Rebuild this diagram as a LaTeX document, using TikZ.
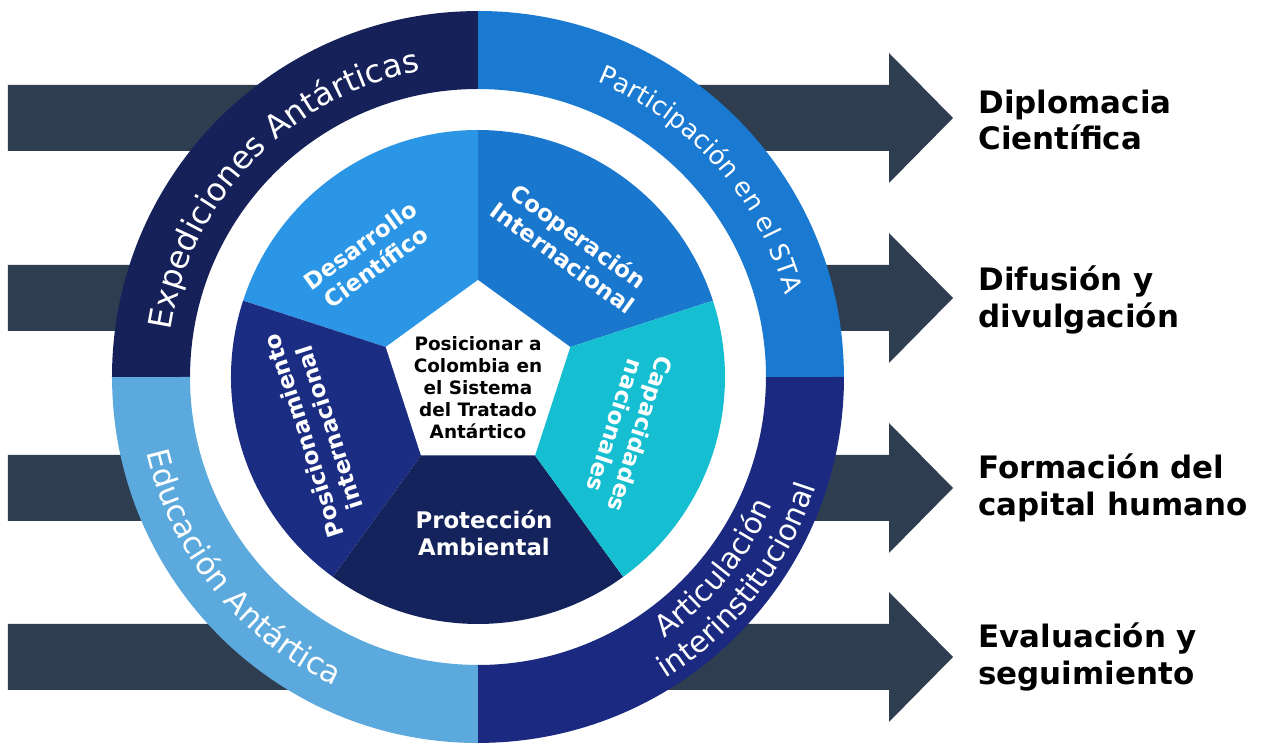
\documentclass[tikz,border=0pt]{standalone}
\usepackage{fontspec}
\setmainfont{DejaVu Sans}
\usetikzlibrary{decorations.text}
\definecolor{arrowc}{HTML}{2E3D4F}
\definecolor{expc}{HTML}{16215A}
\definecolor{partc}{HTML}{1A79D0}
\definecolor{artc}{HTML}{1B2A80}
\definecolor{educ}{HTML}{5CA9DE}
\definecolor{desc}{HTML}{2B96E6}
\definecolor{coopc}{HTML}{1A77CE}
\definecolor{capc}{HTML}{15BED0}
\definecolor{protc}{HTML}{15235D}
\definecolor{posc}{HTML}{1B2C83}
\begin{document}
\begin{tikzpicture}[x=0.02cm,y=0.02cm,
  arrowshape/.style={fill=arrowc},
  seclabel/.style={text=white,font=\bfseries\fontsize{13}{15.3}\selectfont,align=center,inner sep=0pt},
  centerlabel/.style={text=black,font=\bfseries\fontsize{10.5}{12.5}\selectfont,align=center,inner sep=0pt},
  rightlabel/.style={text=black,font=\bfseries\fontsize{17.6}{21}\selectfont,align=left,anchor=west,inner sep=0pt}]
\useasboundingbox (-478,-372) rectangle (784,377);
\fill[white] (-478,-372) rectangle (784,377);
% arrows
\foreach \yy in {259,79,-111,-280}{
  \fill[arrowshape] (-470,\yy+33) -- (411,\yy+33) -- (411,\yy+65) -- (475,\yy) -- (411,\yy-65) -- (411,\yy-33) -- (-470,\yy-33) -- cycle;
}
% white ring behind
\fill[white] (0,0) circle[radius=5.78cm];
% outer ring quadrants
\fill[partc] (0:288) arc[start angle=0,end angle=90,radius=5.76cm] -- (90:366) arc[start angle=90,end angle=0,radius=7.32cm] -- cycle;
\fill[expc] (90:288) arc[start angle=90,end angle=180,radius=5.76cm] -- (180:366) arc[start angle=180,end angle=90,radius=7.32cm] -- cycle;
\fill[educ] (180:288) arc[start angle=180,end angle=270,radius=5.76cm] -- (270:366) arc[start angle=270,end angle=180,radius=7.32cm] -- cycle;
\fill[artc] (270:288) arc[start angle=270,end angle=360,radius=5.76cm] -- (360:366) arc[start angle=360,end angle=270,radius=7.32cm] -- cycle;
% inner disc sectors
\fill[coopc] (0,0) -- (18:247) arc[start angle=18,end angle=90,radius=4.94cm] -- cycle;
\fill[desc] (0,0) -- (90:247) arc[start angle=90,end angle=162,radius=4.94cm] -- cycle;
\fill[posc] (0,0) -- (162:247) arc[start angle=162,end angle=234,radius=4.94cm] -- cycle;
\fill[protc] (0,0) -- (234:247) arc[start angle=234,end angle=306,radius=4.94cm] -- cycle;
\fill[capc] (0,0) -- (306:247) arc[start angle=306,end angle=378,radius=4.94cm] -- cycle;
% central pentagon
\fill[white] (90:97) -- (162:97) -- (234:97) -- (306:97) -- (18:97) -- cycle;
% ring texts
\path[decorate,decoration={text along path,text align=center,
  text={|\color{white}\fontsize{18.2}{21}\selectfont|Expediciones Antárticas}}]
  (181:311) arc[start angle=181,end angle=91,radius=6.22cm];
\path[decorate,decoration={text along path,text align=center,
  text={|\color{white}\fontsize{14.6}{17}\selectfont|Participación en el STA}}]
  (86.5:318) arc[start angle=86.5,end angle=-3.5,radius=6.36cm];
\path[decorate,decoration={text along path,text align=center,
  text={|\color{white}\fontsize{17.6}{20}\selectfont|Educación Antártica}}]
  (174:340) arc[start angle=174,end angle=264,radius=6.8cm];
\path[decorate,decoration={text along path,text align=center,
  text={|\color{white}\fontsize{16.8}{19}\selectfont|Articulación}}]
  (276:321) arc[start angle=276,end angle=366,radius=6.42cm];
\path[decorate,decoration={text along path,text align=center,
  text={|\color{white}\fontsize{16.8}{19}\selectfont|interinstitucional}}]
  (277:355) arc[start angle=277,end angle=367,radius=7.1cm];
% sector labels
\node[seclabel,rotate=36] (dsc) at (-110,121) {Desarrollo\\Científico};
\node[seclabel,rotate=-36] (coop) at (93,130) {Cooperación\\Internacional};
\node[seclabel,rotate=-108] (cap) at (150,-53) {Capacidades\\nacionales};
\node[seclabel] (prot) at (6,-156) {Protección\\Ambiental};
\node[seclabel,rotate=108] (pos) at (-162,-55) {Posicionamiento\\internacional};
\node[centerlabel] (ctr) at (0,-11) {Posicionar a\\Colombia en\\el Sistema\\del Tratado\\Antártico};
% right labels
\node[rightlabel] (lab1) at (500,257) {Diplomacia\\Científica};
\node[rightlabel] (lab2) at (500,77) {Difusión y\\divulgación};
\node[rightlabel] (lab3) at (500,-111) {Formación del\\capital humano};
\node[rightlabel] (lab4) at (500,-280) {Evaluación y\\seguimiento};
\end{tikzpicture}
\end{document}
